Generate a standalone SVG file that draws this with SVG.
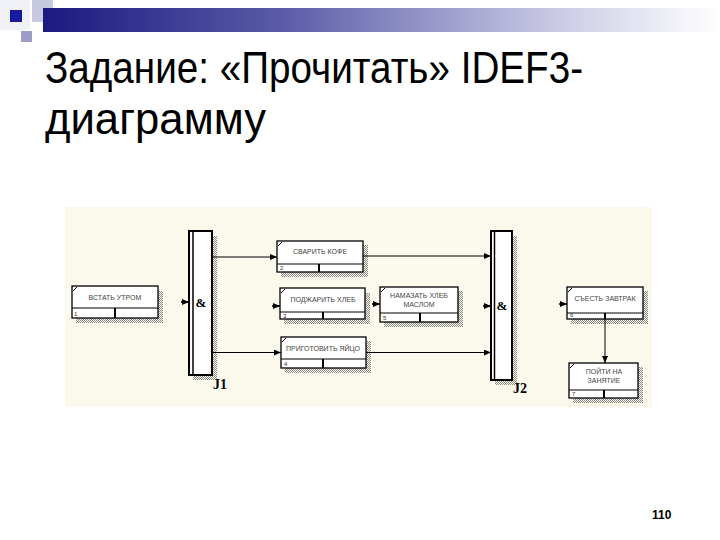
<svg xmlns="http://www.w3.org/2000/svg" width="720" height="540" viewBox="0 0 720 540">
<defs>
  <linearGradient id="bar" x1="0" y1="0" x2="1" y2="0">
    <stop offset="0" stop-color="#1a1a80"/>
    <stop offset="0.35" stop-color="#5a5aa8"/>
    <stop offset="0.75" stop-color="#c8c8e4"/>
    <stop offset="1" stop-color="#ffffff"/>
  </linearGradient>
  <pattern id="hatch" width="2" height="2" patternUnits="userSpaceOnUse">
    <rect x="0" y="0" width="1" height="1" fill="#8a8a8a"/>
    <rect x="1" y="1" width="1" height="1" fill="#8a8a8a"/>
  </pattern>
  <marker id="arr" markerWidth="7" markerHeight="6" refX="7" refY="3" orient="auto" markerUnits="userSpaceOnUse">
    <path d="M0,0 L7,3 L0,6 Z" fill="#000"/>
  </marker>
</defs>
<style>
  .title{font-family:"Liberation Sans",Arial,sans-serif;font-size:44px;fill:#000}
  .box{fill:#ffffff;stroke:#000;stroke-width:1.3}
  .div{stroke:#000;stroke-width:1}
  .vdiv{stroke:#000;stroke-width:2}
  .shadow{fill:url(#hatch)}
  .lbl{font-family:"Liberation Sans",Arial,sans-serif;font-size:7px;fill:#444;text-anchor:middle}
  .num{font-family:"Liberation Sans",Arial,sans-serif;font-size:6px;fill:#333}
  .tick{stroke:#000;stroke-width:1}
  .amp{font-family:"Liberation Serif","Times New Roman",serif;font-weight:bold;font-size:13px;fill:#000;text-anchor:middle}
  .jl{font-family:"Liberation Serif","Times New Roman",serif;font-weight:bold;font-size:14px;fill:#000}
  .conn{stroke:#000;stroke-width:1;fill:none;marker-end:url(#arr)}
  .stub{stroke:#000;stroke-width:1.5;fill:none;marker-end:url(#arr)}
  .jbar{fill:#ffffff;stroke:#000;stroke-width:2}
</style>

<!-- slide decoration -->
<g id="decor">
  <rect x="0" y="0" width="30" height="30" fill="#f0f1f6"/>
  <rect x="32" y="0" width="21" height="22" fill="#c8cae2"/>
  <rect x="43" y="8" width="677" height="24" fill="url(#bar)"/>
  <rect x="10" y="10" width="12" height="12" fill="#1a1a9c"/>
  <rect x="21" y="31" width="11" height="11" fill="#9c9ec8"/>
</g>

<g id="title">
  <text class="title" x="45" y="83" textLength="538" lengthAdjust="spacingAndGlyphs">Задание: «Прочитать» IDEF3-</text>
  <text class="title" x="45" y="134" textLength="221" lengthAdjust="spacingAndGlyphs">диаграмму</text>
</g>

<rect id="panel" x="65" y="207" width="587" height="200" fill="#fbf8ec"/>

<!-- Box 1 -->
<g id="box1">
  <rect class="shadow" x="158" y="291" width="5" height="32"/>
  <rect class="shadow" x="76" y="318" width="87" height="5"/>
  <rect class="box" x="72" y="286" width="86" height="32"/>
  <line class="div" x1="72" y1="308" x2="158" y2="308"/>
  <line class="vdiv" x1="115" y1="308" x2="115" y2="318"/>
  <line class="tick" x1="73" y1="291" x2="77" y2="287"/>
  <text class="lbl" x="115" y="300">ВСТАТЬ УТРОМ</text>
  <text class="num" x="74" y="316">1</text>
</g>

<!-- Junction J1 -->
<g id="J1">
  <rect class="shadow" x="212" y="236" width="5" height="144"/>
  <rect class="shadow" x="193" y="375" width="24" height="5"/>
  <rect class="jbar" x="189" y="231" width="23" height="144"/>
  <line x1="193" y1="231" x2="193" y2="375" stroke="#000" stroke-width="1.5"/>
  <text class="amp" x="201" y="307">&amp;</text>
  <text class="jl" x="213" y="389">J1</text>
</g>

<!-- Box 2 -->
<g id="box2">
  <rect class="shadow" x="363" y="245" width="5" height="32"/>
  <rect class="shadow" x="281" y="272" width="87" height="5"/>
  <rect class="box" x="277" y="241" width="86" height="31"/>
  <line class="div" x1="277" y1="264" x2="363" y2="264"/>
  <line class="vdiv" x1="319" y1="264" x2="319" y2="272"/>
  <line class="tick" x1="278" y1="246" x2="282" y2="242"/>
  <text class="lbl" x="320" y="254">СВАРИТЬ КОФЕ</text>
  <text class="num" x="280" y="270">2</text>
</g>

<!-- Box 3 -->
<g id="box3">
  <rect class="shadow" x="365" y="293" width="5" height="31"/>
  <rect class="shadow" x="284" y="319" width="86" height="5"/>
  <rect class="box" x="280" y="288" width="85" height="31"/>
  <line class="div" x1="280" y1="312" x2="365" y2="312"/>
  <line class="vdiv" x1="323" y1="312" x2="323" y2="319"/>
  <line class="tick" x1="281" y1="293" x2="285" y2="289"/>
  <text class="lbl" x="323" y="302">ПОДЖАРИТЬ ХЛЕБ</text>
  <text class="num" x="283" y="318">3</text>
</g>

<!-- Box 4 -->
<g id="box4">
  <rect class="shadow" x="366" y="341" width="5" height="32"/>
  <rect class="shadow" x="285" y="368" width="86" height="5"/>
  <rect class="box" x="281" y="337" width="85" height="31"/>
  <line class="div" x1="281" y1="359" x2="366" y2="359"/>
  <line class="vdiv" x1="323" y1="359" x2="323" y2="368"/>
  <line class="tick" x1="282" y1="342" x2="286" y2="338"/>
  <text class="lbl" x="323" y="351">ПРИГОТОВИТЬ ЯЙЦО</text>
  <text class="num" x="284" y="366">4</text>
</g>

<!-- Box 5 -->
<g id="box5">
  <rect class="shadow" x="458" y="291" width="5" height="36"/>
  <rect class="shadow" x="384" y="322" width="79" height="5"/>
  <rect class="box" x="380" y="287" width="78" height="35"/>
  <line class="div" x1="380" y1="313" x2="458" y2="313"/>
  <line class="vdiv" x1="420" y1="313" x2="420" y2="322"/>
  <line class="tick" x1="381" y1="292" x2="385" y2="288"/>
  <text class="lbl" x="419" y="298">НАМАЗАТЬ ХЛЕБ</text>
  <text class="lbl" x="419" y="307">МАСЛОМ</text>
  <text class="num" x="383" y="320">5</text>
</g>

<!-- Junction J2 -->
<g id="J2">
  <rect class="shadow" x="512" y="236" width="5" height="149"/>
  <rect class="shadow" x="495" y="380" width="22" height="5"/>
  <rect class="jbar" x="491" y="231" width="21" height="149"/>
  <line x1="494.5" y1="231" x2="494.5" y2="380" stroke="#000" stroke-width="1.5"/>
  <text class="amp" x="502" y="310">&amp;</text>
  <text class="jl" x="513" y="393">J2</text>
</g>

<!-- Box 6 -->
<g id="box6">
  <rect class="shadow" x="643" y="291" width="5" height="33"/>
  <rect class="shadow" x="571" y="319" width="77" height="5"/>
  <rect class="box" x="567" y="287" width="76" height="32"/>
  <line class="div" x1="567" y1="313" x2="643" y2="313"/>
  <line class="vdiv" x1="605" y1="313" x2="605" y2="319"/>
  <line class="tick" x1="568" y1="292" x2="572" y2="288"/>
  <text class="lbl" x="605" y="301">СЪЕСТЬ ЗАВТРАК</text>
  <text class="num" x="570" y="317">6</text>
</g>

<!-- Box 7 -->
<g id="box7">
  <rect class="shadow" x="638" y="367" width="5" height="36"/>
  <rect class="shadow" x="573" y="398" width="70" height="5"/>
  <rect class="box" x="569" y="363" width="69" height="35"/>
  <line class="div" x1="569" y1="390" x2="638" y2="390"/>
  <line class="vdiv" x1="604" y1="390" x2="604" y2="398"/>
  <line class="tick" x1="570" y1="368" x2="574" y2="364"/>
  <text class="lbl" x="604" y="374">ПОЙТИ НА</text>
  <text class="lbl" x="604" y="383">ЗАНЯТИЕ</text>
  <text class="num" x="572" y="396">7</text>
</g>

<!-- Connectors -->
<g id="connectors">
  <line class="conn" x1="212" y1="257" x2="277" y2="257"/>
  <line class="conn" x1="212" y1="352.5" x2="281" y2="352.5"/>
  <line class="conn" x1="363" y1="256" x2="491" y2="256"/>
  <line class="conn" x1="366" y1="352.5" x2="491" y2="352.5"/>
  <line class="conn" x1="605" y1="319" x2="605" y2="363"/>
  <line class="stub" x1="181" y1="302" x2="189" y2="302"/>
  <line class="stub" x1="272" y1="306" x2="280" y2="306"/>
  <line class="stub" x1="372" y1="304" x2="380" y2="304"/>
  <line class="stub" x1="483" y1="306" x2="491" y2="306"/>
  <line class="stub" x1="559" y1="304" x2="567" y2="304"/>
</g>

<text x="652" y="519" font-family="Liberation Sans,Arial,sans-serif" font-size="12" font-weight="bold" fill="#000">110</text>
</svg>
